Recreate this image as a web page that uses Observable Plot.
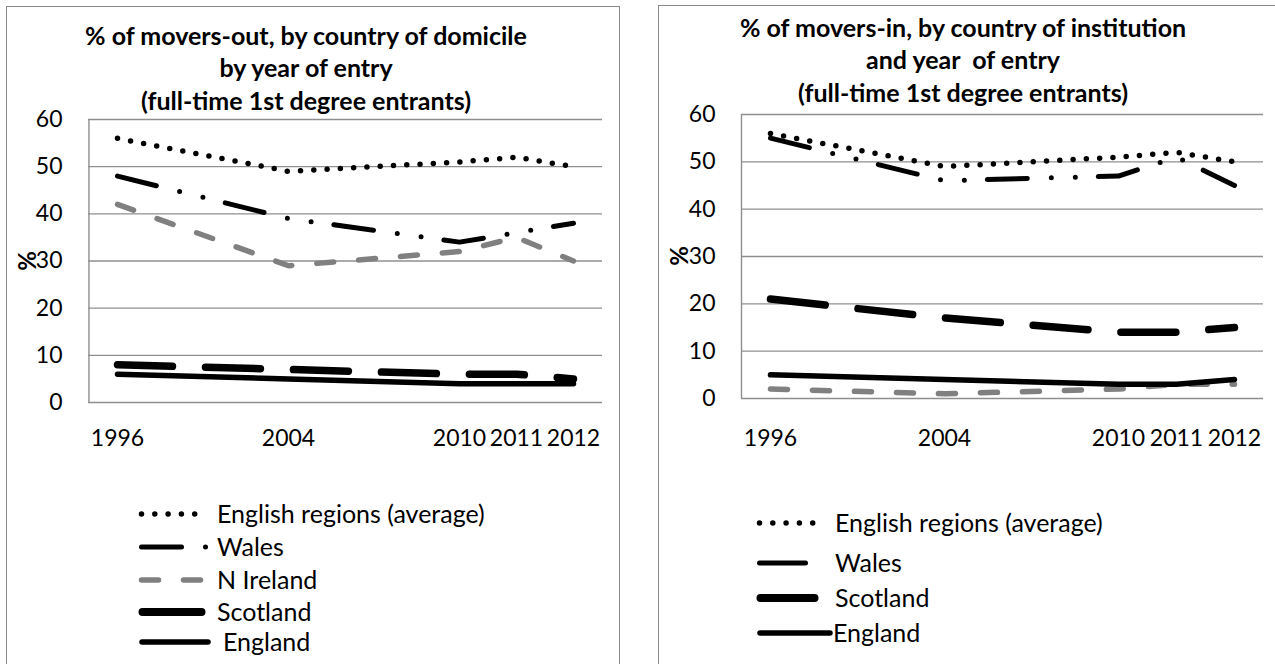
<!DOCTYPE html>
<html><head><meta charset="utf-8">
<script src="https://cdn.jsdelivr.net/npm/d3@7"></script>
<script src="https://cdn.jsdelivr.net/npm/@observablehq/plot@0.6"></script>
<style>
body{margin:0;background:#fff;font-family:Lato,"Open Sans",sans-serif;color:#000;}
#page{position:relative;width:1275px;height:664px;overflow:hidden;background:#fff;}
.panel{position:absolute;border:1.5px solid #8a8a8a;background:#fff;box-sizing:border-box;}
.title{position:absolute;text-align:center;font-weight:bold;font-size:25px;line-height:32.5px;white-space:pre;transform:translateX(-50%);}
.chart{position:absolute;}
.chart svg text{font-variant-numeric:tabular-nums;}
.ylab{position:absolute;font-weight:bold;font-size:24px;line-height:1;transform:translate(-50%,-50%) rotate(-90deg);}
.leg{position:absolute;}
</style></head>
<body><div id="page"></div>
<script>
// ---- data ----
const slots = ["1996", "gap1", "gap2", "2004", "gap3", "gap4", "2010", "2011", "2012"];
const years = ["1996", "2004", "2010", "2011", "2012"];
const yTicks = [0, 10, 20, 30, 40, 50, 60];

const outSeries = ["English regions (average)", "Wales", "N Ireland", "Scotland", "England"];
const outEnglishRegions = [56, 49, 51, 52, 50];
const outWales = [48, 39, 34, 36, 38];
const outNIreland = [42, 29, 32, 35, 30];
const outScotland = [8, 7, 6, 6, 5];
const outEngland = [6, 5, 4, 4, 4];

const inSeries = ["English regions (average)", "Wales", "N Ireland", "Scotland", "England"];
const inEnglishRegions = [56, 49, 51, 52, 50];
const inWales = [55, 46, 47, 51, 45];
const inNIreland = [2, 1, 2, 3, 3];
const inScotland = [21, 17, 14, 14, 15];
const inEngland = [5, 4, 3, 3, 4];

// ---- styles ----
const styles = {
  "English regions (average)": {stroke: "#000", strokeWidth: 5.5, dash: "0,13.3"},
  "Wales": {stroke: "#000", strokeWidth: 5, dash: "40,24,0,24,0,23"},
  "N Ireland": {stroke: "#808080", strokeWidth: 5.5, dash: "17,25"},
  "Scotland": {stroke: "#000", strokeWidth: 7.5, dash: "55,33"},
  "England": {stroke: "#000", strokeWidth: 5.5, dash: null}
};

const page = d3.select("#page");

function rows(values) { return years.map((y, i) => ({slot: y, value: values[i]})); }

function panel(cfg) {
  page.append("div").attr("class", "panel")
    .style("left", cfg.box[0] + "px").style("top", cfg.box[1] + "px")
    .style("width", cfg.box[2] + "px").style("height", cfg.box[3] + "px");
  cfg.title.forEach((t, i) => {
    page.append("div").attr("class", "title").text(t)
      .style("left", cfg.titleX + "px").style("top", (cfg.titleY - 16.25 + i * 32.5) + "px");
  });
  const innerW = cfg.w - cfg.ml - cfg.mr;
  const step = innerW / slots.length;
  const marks = [
    Plot.ruleY(yTicks, {stroke: "#8f8f8f", strokeWidth: 1.4}),
    Plot.ruleX([slots[0]], {dx: -step / 2, stroke: "#8f8f8f", strokeWidth: 1.4}),
    Plot.axisY({ticks: yTicks, tickSize: 0, tickPadding: 26, label: null, fontSize: 23}),
    Plot.axisX({ticks: years, tickSize: 0, tickPadding: cfg.xpad, label: null, fontSize: 23})
  ];
  cfg.series.forEach((name, i) => {
    const s = styles[name];
    marks.push(Plot.line(rows(cfg.values[i]), {
      x: "slot", y: "value", stroke: s.stroke, strokeWidth: s.strokeWidth,
      strokeDasharray: s.dash, strokeLinecap: "round", strokeLinejoin: "round"
    }));
  });
  const svg = Plot.plot({
    width: cfg.w, height: cfg.h,
    marginLeft: cfg.ml, marginRight: cfg.mr, marginTop: cfg.mt, marginBottom: cfg.mb,
    x: {type: "point", domain: slots, padding: 0.5, axis: null},
    y: {domain: [0, 60], axis: null},
    style: {background: "transparent", fontFamily: "Lato", fontSize: "23px", color: "#000", overflow: "visible"},
    marks
  });
  page.append("div").attr("class", "chart")
    .style("left", cfg.x + "px").style("top", cfg.y + "px")
    .node().appendChild(svg);
  page.append("div").attr("class", "ylab").text("%")
    .style("left", cfg.ylab[0] + "px").style("top", cfg.ylab[1] + "px");

  // legend
  const leg = page.append("svg").attr("class", "leg")
    .attr("width", 600).attr("height", 180)
    .style("left", cfg.legX + "px").style("top", cfg.legY + "px")
    .style("overflow", "visible");
  cfg.legend.forEach((item) => {
    const s = styles[item.name];
    const yy = item.y;
    leg.append("line")
      .attr("x1", item.x1).attr("x2", item.x2).attr("y1", yy).attr("y2", yy)
      .attr("stroke", s.stroke).attr("stroke-width", item.sw || s.strokeWidth)
      .attr("stroke-linecap", "round")
      .attr("stroke-dasharray", item.solid ? null : s.dash);
    leg.append("text").attr("x", item.tx).attr("y", yy).attr("dy", "0.36em")
      .attr("font-family", "Lato").attr("font-size", 25).text(item.name);
  });
}

panel({
  box: [6, 6, 614, 700],
  title: ["% of movers-out, by country of domicile", "by year of entry", "(full-time 1st degree entrants)"],
  titleX: 306, titleY: 35,
  x: 8, y: 7, w: 609, h: 460, ml: 80, mr: 15, mt: 112, mb: 65, xpad: 27,
  series: outSeries,
  values: [outEnglishRegions, outWales, outNIreland, outScotland, outEngland],
  ylab: [27, 261],
  legX: 0, legY: 480,
  legend: [
    {name: "English regions (average)", x1: 141.5, x2: 197, y: 34, tx: 217},
    {name: "Wales", x1: 141.5, x2: 206, y: 67, tx: 217},
    {name: "N Ireland", x1: 141.5, x2: 200.5, y: 100, tx: 217},
    {name: "Scotland", x1: 142.5, x2: 201.5, y: 132, tx: 217, solid: true, sw: 8},
    {name: "England", x1: 142, x2: 208, y: 162, tx: 223, solid: true}
  ]
});

panel({
  box: [658, 5, 640, 700],
  title: ["% of movers-in, by country of institution", "and year  of entry", "(full-time 1st degree entrants)"],
  titleX: 963, titleY: 27,
  x: 660, y: 7, w: 615, h: 460, ml: 81, mr: 12, mt: 107, mb: 69, xpad: 31,
  series: inSeries,
  values: [inEnglishRegions, inWales, inNIreland, inScotland, inEngland],
  ylab: [679, 256],
  legX: 640, legY: 480,
  legend: [
    {name: "English regions (average)", x1: 119.5, x2: 175, y: 43, tx: 195},
    {name: "Wales", x1: 119.5, x2: 165.5, y: 83, tx: 195, solid: true},
    {name: "Scotland", x1: 120.5, x2: 174.5, y: 118, tx: 195, solid: true, sw: 8},
    {name: "England", x1: 120, x2: 190, y: 153, tx: 193, solid: true}
  ]
});
</script>
</body></html>
